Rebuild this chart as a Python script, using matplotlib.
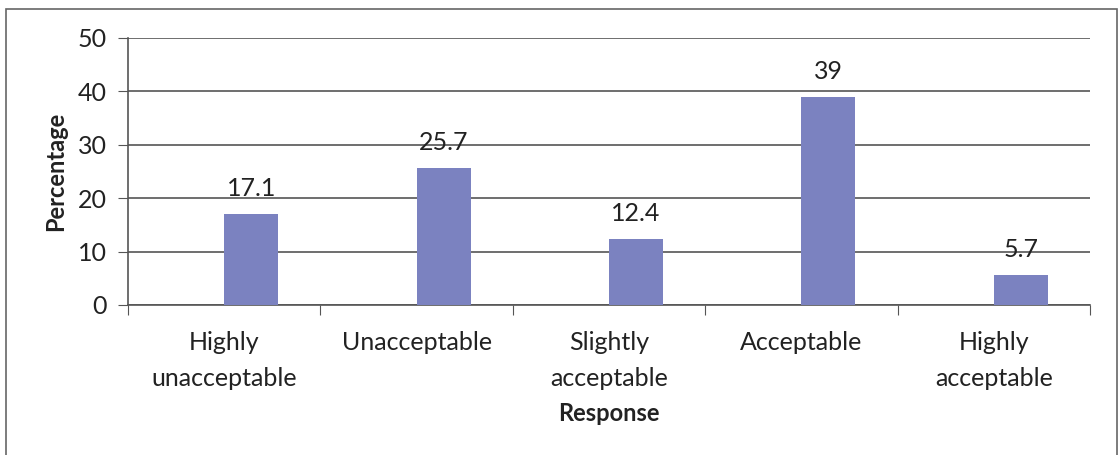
import matplotlib.pyplot as plt
from matplotlib.patches import Rectangle

categories = ["Highly\nunacceptable", "Unacceptable", "Slightly\nacceptable", "Acceptable", "Highly\nacceptable"]
values = [17.1, 25.7, 12.4, 39, 5.7]
labels = ["17.1", "25.7", "12.4", "39", "5.7"]
yticks = [0, 10, 20, 30, 40, 50]

plt.rcParams['font.family'] = ['Lato', 'DejaVu Sans']
txt = '#222222'
grid = '#555555'
fs = 18

fig = plt.figure(figsize=(11.2, 4.55), dpi=100)
ax = fig.add_axes([0.1143, 0.3297, 0.859, 0.5868])

# outer border of the chart area
fig.patches.append(Rectangle((0.005, -0.01), 0.992, 0.99, transform=fig.transFigure,
                             fill=False, edgecolor='#666666', linewidth=1.2))

x = range(len(values))
# bars sit just right of the category centre, like the original
ax.bar(x, values, width=0.28, align='edge', color='#7b82c0', zorder=3)
for i, v in enumerate(values):
    ax.annotate(labels[i], (i + 0.14, v), xytext=(0, 10), textcoords='offset points',
                ha='center', va='bottom', fontsize=fs, color=txt)

ax.set_xlim(-0.5, len(values) - 0.5)
ax.set_ylim(0, 50)
ax.set_yticks(yticks)
ax.yaxis.grid(True, color=grid, linewidth=1.2, zorder=0)
ax.tick_params(axis='y', length=7, color=grid, labelsize=fs, labelcolor=txt, pad=8)

ax.set_xticks([i + 0.5 for i in range(-1, len(values))])
ax.set_xticklabels([])
ax.set_xticks(list(x), minor=True)
ax.set_xticklabels(categories, minor=True, fontsize=fs, color=txt, linespacing=1.65)
ax.tick_params(axis='x', which='major', length=7, color=grid)
ax.tick_params(axis='x', which='minor', length=0, pad=19)

for s in ['top', 'right']:
    ax.spines[s].set_visible(False)
for s in ['left', 'bottom']:
    ax.spines[s].set_color(grid)
    ax.spines[s].set_linewidth(1.2)

ax.set_ylabel("Percentage", fontsize=17, fontweight='bold', color=txt, labelpad=8)
ax.set_xlabel("Response", fontsize=17, fontweight='bold', color=txt, labelpad=9)

fig.savefig("out.png", dpi=100)
